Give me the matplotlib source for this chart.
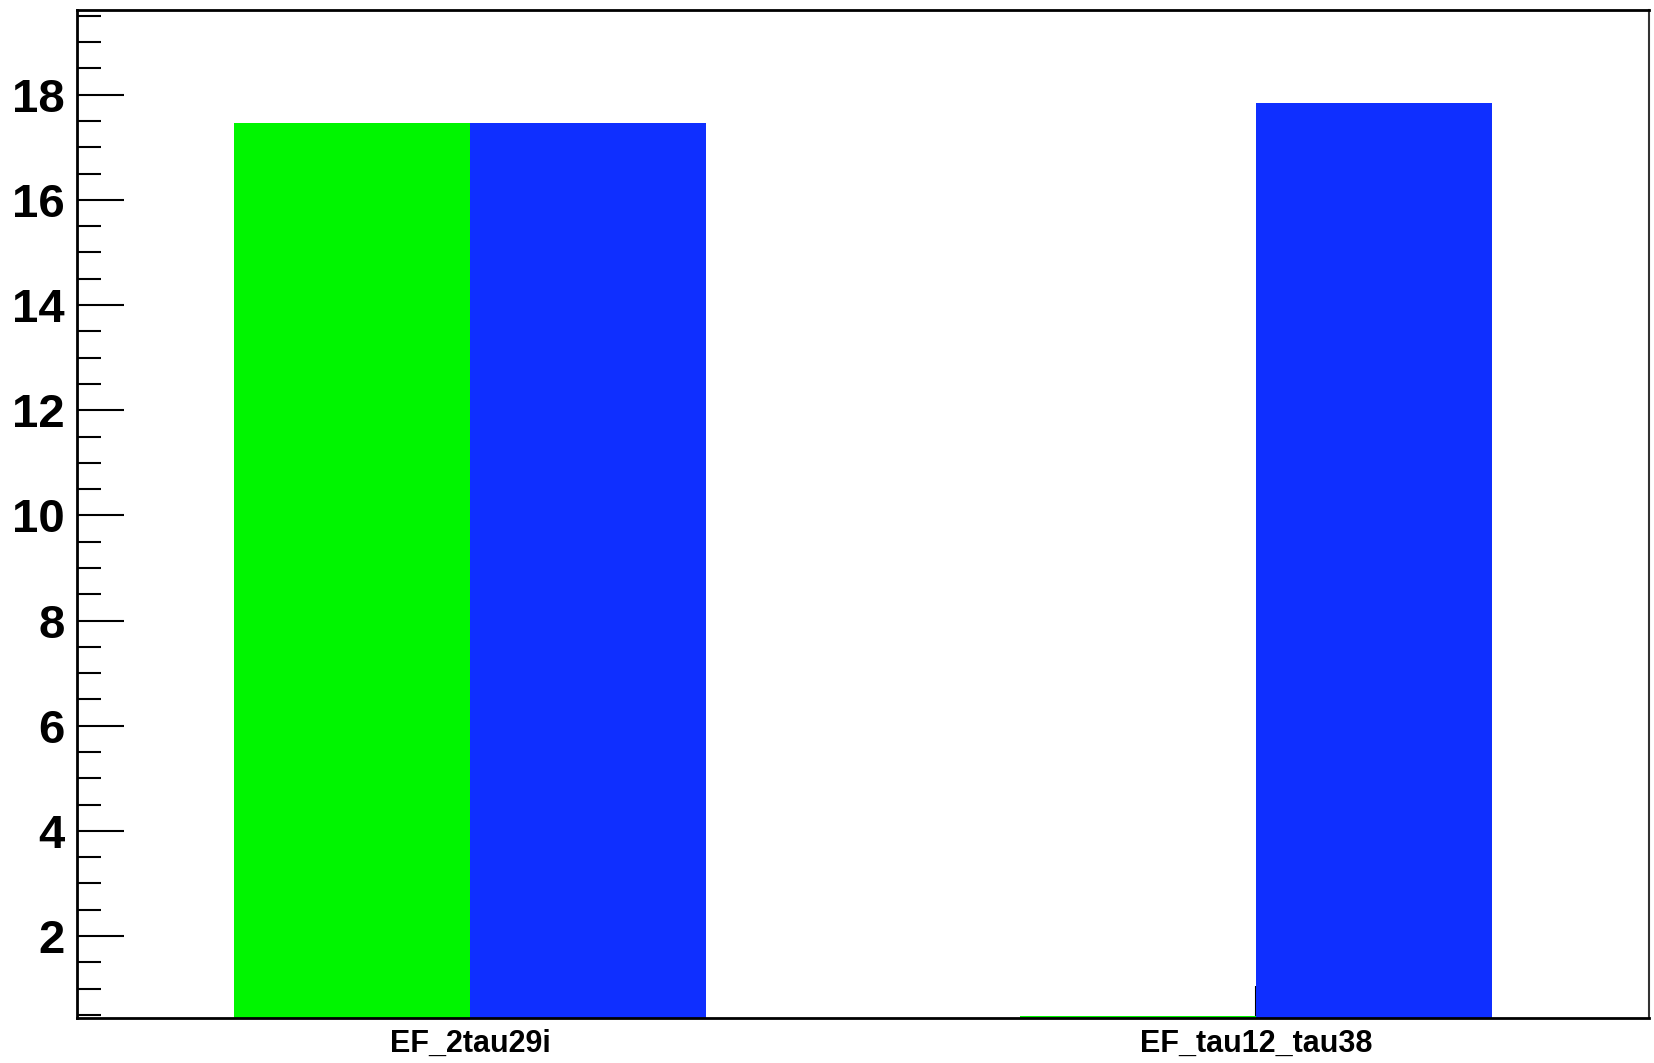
import matplotlib
matplotlib.use("Agg")
import matplotlib.pyplot as plt
from matplotlib.ticker import MultipleLocator, FixedLocator

# 数据
categories = ["EF_2tau29i", "EF_tau12_tau38"]
green_values = [17.46, 0.47]
blue_values = [17.46, 17.84]

plt.rcParams["font.family"] = ["Liberation Sans", "DejaVu Sans"]

fig = plt.figure(figsize=(16.54, 10.63), dpi=100)
ax = fig.add_axes([0.0466, 0.0423, 0.9504, 0.9487])

centers = [i + 0.5 for i in range(len(categories))]
bar_w = 0.3
ax.bar([c - bar_w for c in centers], green_values, width=bar_w, align="edge",
       color="#00F500", linewidth=0, zorder=2)
ax.bar(centers, blue_values, width=bar_w, align="edge",
       color="#0F2FFF", linewidth=0, zorder=2)

ax.set_xlim(0, len(categories))
ax.set_ylim(0.44, 19.62)

# y 轴刻度
ax.yaxis.set_major_locator(FixedLocator([2, 4, 6, 8, 10, 12, 14, 16, 18]))
ax.yaxis.set_minor_locator(MultipleLocator(0.5))
ax.tick_params(axis="y", which="major", direction="in", length=34, width=1.5,
               labelsize=34, pad=9)
ax.tick_params(axis="y", which="minor", direction="in", length=17, width=1.5)
for lab in ax.get_yticklabels():
    lab.set_fontweight("bold")

# x 轴刻度
ax.set_xticks(centers)
ax.set_xticklabels(categories, fontsize=22, fontweight="bold")
ax.tick_params(axis="x", which="major", direction="in", length=23, width=1.5,
               pad=8)
ax.tick_params(axis="x", which="minor", length=0)

for side in ["left", "bottom", "top"]:
    ax.spines[side].set_linewidth(2)
ax.spines["right"].set_linewidth(1.5)
ax.spines["right"].set_color("#333333")
for sp in ax.spines.values():
    sp.set_zorder(3)

fig.savefig("out.png", dpi=100)
